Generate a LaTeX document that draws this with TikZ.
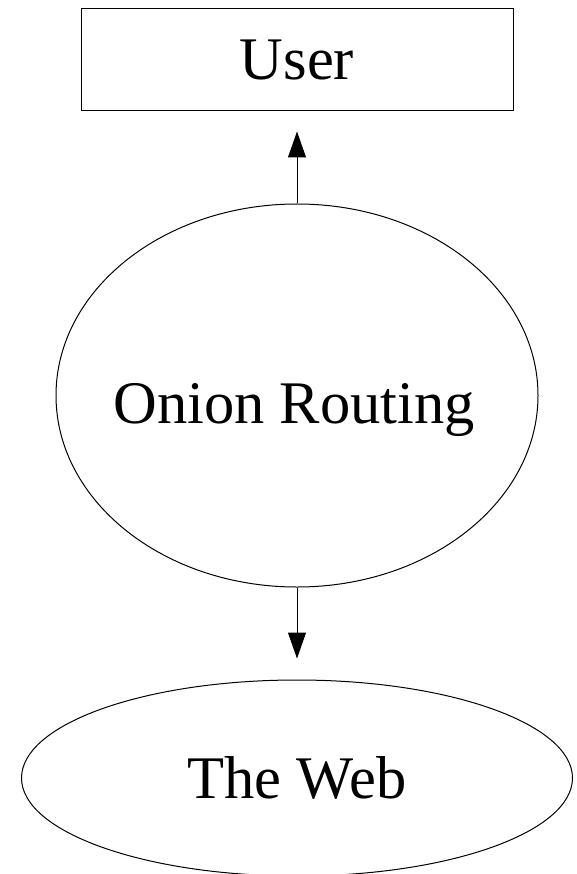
\documentclass[tikz,border=0pt]{standalone}
\usepackage{fontspec}
\setmainfont{Liberation Serif}
\usetikzlibrary{shapes.geometric,arrows.meta}
\begin{document}
\begin{tikzpicture}[x=1pt,y=-1pt,
  every node/.style={font=\fontsize{60.5}{72}\selectfont, inner sep=0pt, line width=1pt},
  boxnode/.style={draw, rectangle, minimum width=432pt, minimum height=102pt},
  ovalnode/.style={draw, ellipse},
  link/.style={line width=1pt, -{Triangle[length=26pt,width=18pt]}}
]
\clip (0,0) rectangle (576,874);
\fill[white] (0,0) rectangle (576,874);
\node[boxnode] (user) at (297,60) {User};
\node[ovalnode, minimum width=482pt, minimum height=383pt] (onion) at (297,395.5) {};
\node[anchor=base] (onionlabel) at (294,423) {Onion Routing};
\node[ovalnode, minimum width=551pt, minimum height=196pt] (web) at (297,778) {The Web};
\draw[link, shorten >=20pt] (onion.north) -- (user.south);
\draw[link, shorten >=21pt] (onion.south) -- (web.north);
\end{tikzpicture}
\end{document}
